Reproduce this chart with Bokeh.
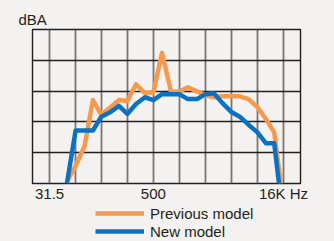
from bokeh.plotting import figure
from bokeh.models import Range1d, FixedTicker, Legend, LegendItem
from bokeh.layouts import column
from bokeh.embed import file_html
from bokeh.resources import INLINE

# 1/3-octave frequencies (Hz) and levels (dBA, 10 dB per grid row)
prev_freq = [50, 63, 80, 100, 125, 160, 200, 250, 315, 400, 500, 630, 800, 1000,
             1250, 1600, 2000, 2500, 3150, 4000, 5000, 6300, 8000, 10000, 12500, 14900]
prev_dba = [0.6, 5.7, 12.1, 27.1, 22.3, 24.8, 27.1, 26.8, 32.2, 29.3, 29.6, 42.4, 29.9, 29.9,
            31.2, 29.9, 28.7, 28.0, 28.3, 28.3, 28.3, 27.4, 24.8, 21.0, 16.6, 0.0]

new_freq = [50, 63, 80, 100, 125, 160, 200, 250, 315, 400, 500, 630, 800, 1000,
            1250, 1600, 2000, 2500, 3150, 4000, 5000, 6300, 8000, 10000, 12500, 14200]
new_dba = [0.0, 17.2, 17.2, 17.2, 21.7, 23.2, 25.2, 22.6, 25.8, 28.0, 27.1, 29.0, 29.0, 29.0,
           27.4, 27.4, 29.0, 29.3, 26.1, 23.2, 21.7, 19.1, 16.6, 13.1, 13.1, 0.0]

grid_freqs = [31.5, 63, 125, 250, 500, 1000, 2000, 4000, 8000, 16000]
label_freqs = [31.5, 500, 16000]
tick_labels = ["31.5", "500", "16K Hz"]
level_grid = [0, 10, 20, 30, 40, 50]
series_names = ["Previous model", "New model"]

BG = "#f4f2f0"
TXT = "#231f20"
ORANGE = "#f5994f"
BLUE = "#0b72c2"
FONT = "Liberation Sans"

p = figure(width=334, height=204, x_axis_type="log",
           x_range=Range1d(20, 25170), y_range=Range1d(0, 50),
           output_backend="svg", toolbar_location=None,
           min_border_left=32, min_border_right=34, min_border_top=29, min_border_bottom=18,
           background_fill_color=BG, border_fill_color=BG)

p.title.text = "dBA"
p.title.align = "left"
p.title.offset = -14
p.title.standoff = 3
p.title.text_font = FONT
p.title.text_font_size = "15px"
p.title.text_font_style = "normal"
p.title.text_color = TXT

p.outline_line_color = TXT
p.outline_line_width = 1.4

p.xgrid.ticker = FixedTicker(ticks=grid_freqs)
p.xgrid.grid_line_color = "#5e5654"
p.xgrid.grid_line_width = 1.8
p.xgrid.grid_line_alpha = 0.8
p.ygrid.ticker = FixedTicker(ticks=level_grid)
p.ygrid.grid_line_color = TXT
p.ygrid.grid_line_width = 1.4

p.yaxis.visible = False
ax = p.xaxis[0]
ax.ticker = FixedTicker(ticks=label_freqs)
ax.major_label_overrides = {f: t for f, t in zip(label_freqs, tick_labels)}
ax.axis_line_color = None
ax.major_tick_line_color = None
ax.minor_tick_line_color = None
ax.major_tick_out = 0
ax.major_tick_in = 0
ax.major_label_standoff = 1
ax.major_label_text_line_height = 0.7
ax.major_label_text_font = FONT
ax.major_label_text_font_size = "15px"
ax.major_label_text_color = TXT

p.line(prev_freq, prev_dba, line_color=ORANGE, line_width=4.5, line_join="round")
p.line(new_freq, new_dba, line_color=BLUE, line_width=4.5, line_join="round")

# legend strip below the chart
q = figure(width=334, height=37, x_range=Range1d(0, 1), y_range=Range1d(100, 200),
           output_backend="svg", toolbar_location=None,
           x_axis_location=None, y_axis_location=None,
           min_border_left=0, min_border_right=0, min_border_top=0, min_border_bottom=0,
           background_fill_color=BG, border_fill_color=BG, outline_line_color=None)
q.xgrid.visible = False
q.ygrid.visible = False
k_prev = q.line(prev_freq, prev_dba, line_color=ORANGE, line_width=4.5)
k_new = q.line(new_freq, new_dba, line_color=BLUE, line_width=4.5)

lg = Legend(items=[LegendItem(label=series_names[0], renderers=[k_prev]),
                   LegendItem(label=series_names[1], renderers=[k_new])],
            location=(63, 1), padding=0, margin=0, spacing=0,
            glyph_width=49, glyph_height=18, label_height=18, label_standoff=6,
            border_line_color=None, background_fill_alpha=0,
            label_text_font=FONT, label_text_font_size="15px", label_text_color=TXT)
q.add_layout(lg)

layout = column(p, q, spacing=0, styles={"background-color": BG})

open("out.html", "w").write(file_html(layout, INLINE))
